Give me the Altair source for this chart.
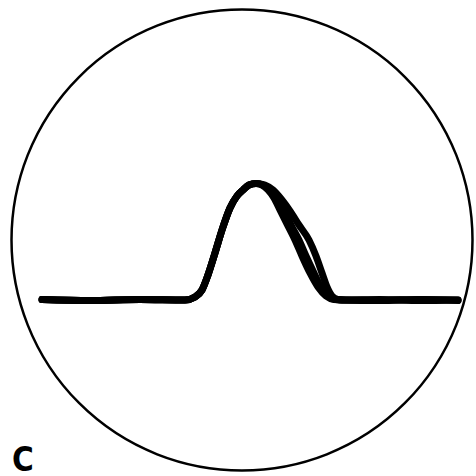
import altair as alt
import pandas as pd

# Screen (graticule) outline: centre and diameter in screen units
screen_t = [242]
screen_v = [60]
screen_diam = [461]

# Shared leading edge of the pulse (time, amplitude)
rise_t = [42, 90, 140, 185, 195, 202, 208, 215, 222, 230, 237, 243, 249, 256]
rise_v = [0.5, -0.5, 0.5, 0, 3, 10, 25, 47, 70, 92, 104, 110, 115, 116.5]

# Trailing edges of three superimposed sweeps
fall_t_a = [262, 268, 274, 280, 287, 295, 302, 310, 318, 326, 334, 342, 380, 420, 458]
fall_v_a = [115, 110, 102, 90, 76, 60, 44, 27, 13, 4, 0.5, 0, -0.5, 0.5, 0]
fall_t_b = [263, 270, 277, 284, 291, 299, 306, 314, 321, 328, 336, 344, 380, 420, 458]
fall_v_b = [115, 110, 101, 90, 75, 60, 44, 27, 13, 4, 0.5, 0, 0.5, -0.5, 0]
fall_t_c = [265, 273, 282, 290, 299, 309, 316, 322, 327, 332, 338, 346, 380, 420, 458]
fall_v_c = [115, 110, 100, 89, 75, 60, 44, 27, 13, 4, 0.5, 0, 0, 0.5, -0.5]

label_text = ["C"]
label_t = [12]
label_v = [-171]

rows = []
for name, ft, fv in [("a", fall_t_a, fall_v_a), ("b", fall_t_b, fall_v_b), ("c", fall_t_c, fall_v_c)]:
    for i, (t, v) in enumerate(zip(rise_t + ft, rise_v + fv)):
        rows.append({"sweep": name, "order": i, "t": t, "v": v})
traces = pd.DataFrame(rows)

xs = alt.Scale(domain=[0, 476])
ys = alt.Scale(domain=[-176, 300])

screen = alt.Chart(pd.DataFrame({"t": screen_t, "v": screen_v, "d": screen_diam})).mark_point(
    shape="circle", filled=False, color="black", strokeWidth=2.5, opacity=1
).encode(
    x=alt.X("t:Q", scale=xs, axis=None),
    y=alt.Y("v:Q", scale=ys, axis=None),
    size=alt.Size("d:Q", scale=alt.Scale(type="pow", exponent=2, domain=[0, 461], range=[0, 461 * 461]), legend=None),
)

lines = alt.Chart(traces).mark_line(
    color="black", strokeWidth=7, interpolate="monotone", strokeCap="round", strokeJoin="round"
).encode(
    x=alt.X("t:Q", scale=xs, axis=None),
    y=alt.Y("v:Q", scale=ys, axis=None),
    detail="sweep:N",
    order="order:Q",
)

label = alt.Chart(pd.DataFrame({"t": label_t, "v": label_v, "s": label_text})).mark_text(
    font="DejaVu Sans Condensed, Liberation Sans Narrow, Liberation Sans, sans-serif",
    fontWeight="bold", fontSize=33, align="left", baseline="alphabetic", color="black"
).encode(
    x=alt.X("t:Q", scale=xs, axis=None),
    y=alt.Y("v:Q", scale=ys, axis=None),
    text="s:N",
)

chart = alt.layer(screen, lines, label).properties(
    width=476, height=476, padding=0, autosize="none", background="white"
).configure_view(stroke=None)

chart.save("out.html", embed_options={"renderer": "svg", "actions": False})
